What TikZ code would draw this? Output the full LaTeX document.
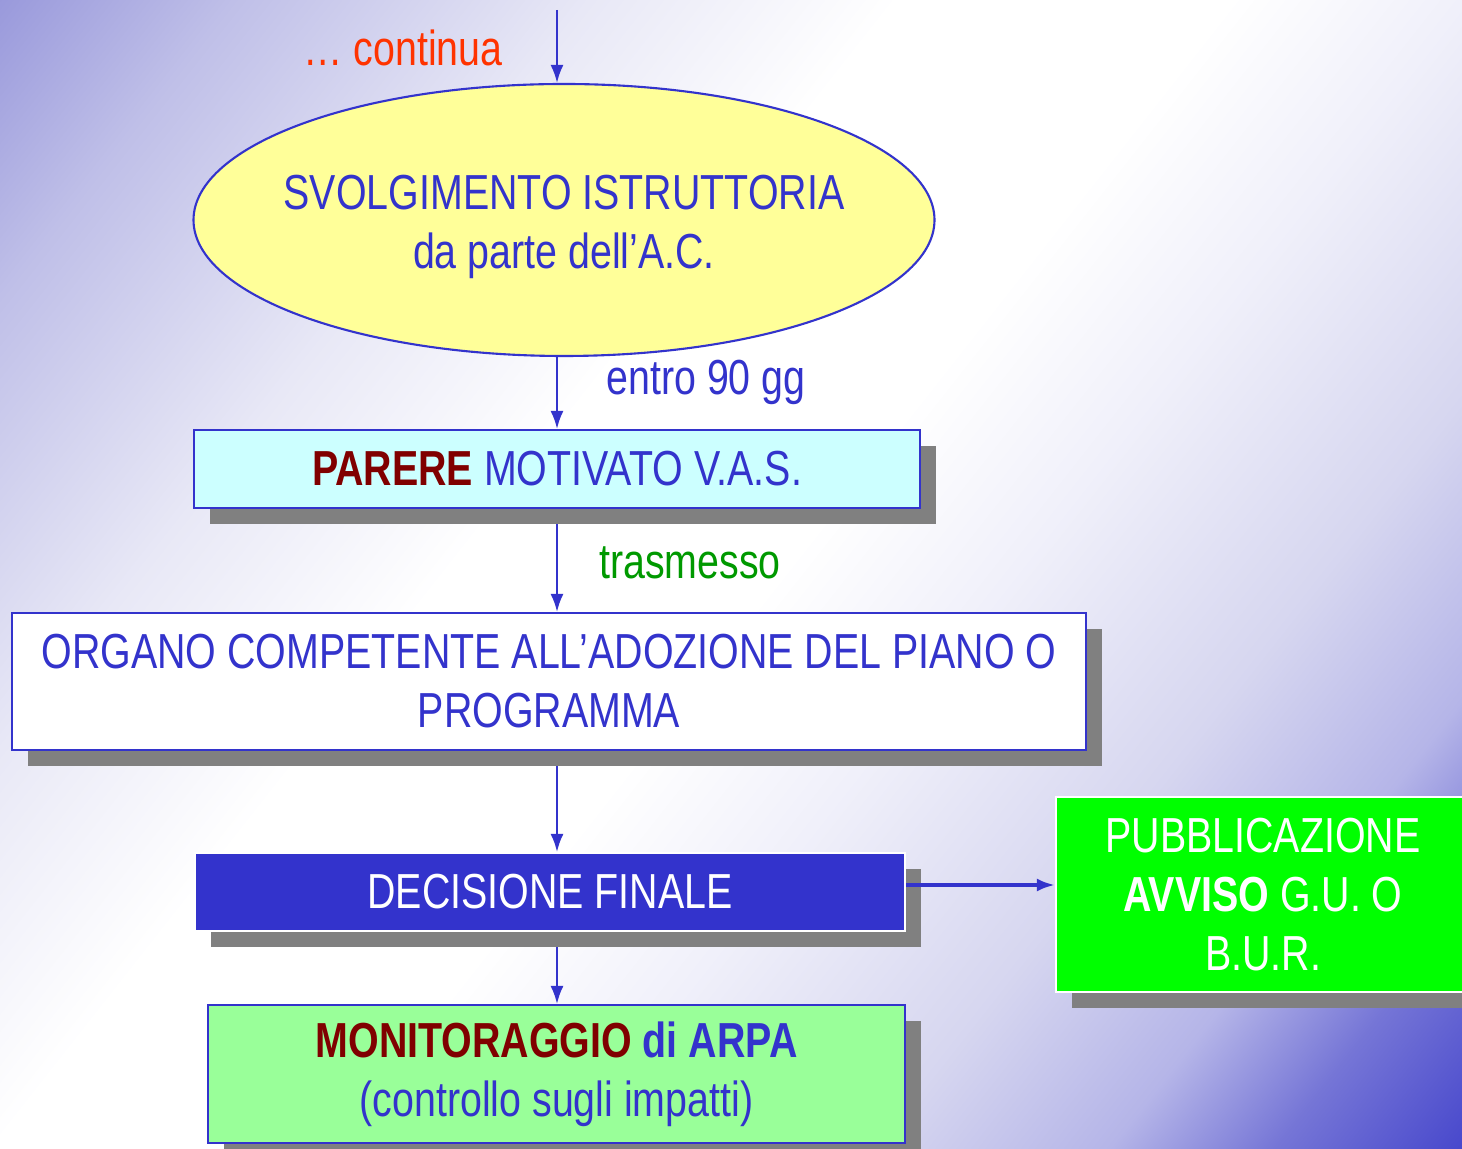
\documentclass[tikz,border=0pt]{standalone}
\usepackage{fontspec}
\setmainfont{Liberation Sans}[FakeStretch=0.8]
\usetikzlibrary{shapes.geometric,shadows,arrows.meta}

\definecolor{vasblue}{RGB}{51,51,204}
\definecolor{vasred}{RGB}{128,0,0}
\definecolor{vasorange}{RGB}{255,51,0}
\definecolor{vasgreentext}{RGB}{0,153,0}
\definecolor{vasyellow}{RGB}{255,255,153}
\definecolor{vascyan}{RGB}{204,255,255}
\definecolor{vasgreen}{RGB}{0,255,0}
\definecolor{vaslight}{RGB}{153,255,153}
\definecolor{shadowgray}{RGB}{128,128,128}

\pgfdeclarelayer{bg}
\pgfdeclarelayer{edges}
\pgfsetlayers{bg,edges,main}

\pgfdeclarehorizontalshading{slidebg}{100bp}{rgb(0bp)=(.6,.6,.86); rgb(10bp)=(.75,.75,.91); rgb(25bp)=(.91,.91,.965); rgb(38bp)=(1,1,1); rgb(52bp)=(1,1,1); rgb(62bp)=(.94,.94,.98); rgb(75bp)=(.84,.84,.94); rgb(85bp)=(.71,.71,.91); rgb(92bp)=(.46,.46,.84); rgb(100bp)=(.28,.28,.8)}

\begin{document}
\begin{tikzpicture}[x=0.1mm,y=-0.1mm,
  font=\fontsize{14}{16.8}\selectfont,
  vasbox/.style={draw=vasblue,line width=0.6pt,inner sep=0pt,align=center,text=vasblue},
  shadebox/.style={drop shadow={shadow xshift=1.6mm,shadow yshift=-1.6mm,fill=shadowgray,opacity=1}},
  link/.style={draw=vasblue,line width=0.6pt,-{Latex[length=1.8mm,width=1.3mm]}}]
\useasboundingbox (0,0) rectangle (1462,1149);
\begin{pgfonlayer}{bg}
\begin{scope}
\clip (0,0) rectangle (1462,1149);
\node[inner sep=0pt,rotate=-38.2,scale=5.28] (slide) at (731,574.5) {\pgfuseshading{slidebg}};
\end{scope}
\end{pgfonlayer}

\coordinate (trunk) at (557,10);
\node[text=vasorange] (cont) at (403,48) {… continua};
\node[vasbox,ellipse,fill=vasyellow,minimum width=74.1mm,minimum height=27.2mm,
  label={[text=vasblue,align=center,yshift=-0.7mm]center:SVOLGIMENTO ISTRUTTORIA\\da parte dell’A.C.}] (istr) at (564,220) {};
\node[text=vasblue] (entro) at (706,382) {entro 90 gg};
\node[vasbox,shadebox,fill=vascyan,minimum width=72.6mm,minimum height=7.8mm] (parere) at (557,469) {\textbf{\color{vasred}PARERE} MOTIVATO V.A.S.};
\node[text=vasgreentext] (trasm) at (690,563) {trasmesso};
\node[vasbox,shadebox,fill=white,minimum width=107.4mm,minimum height=13.7mm] (organo) at (549,681.5) {ORGANO COMPETENTE ALL’ADOZIONE DEL PIANO O\\PROGRAMMA};
\node[vasbox,shadebox,draw=white,fill=vasblue,text=white,minimum width=71mm,minimum height=7.8mm] (decis) at (550,892) {DECISIONE FINALE};
\node[vasbox,shadebox,draw=white,fill=vasgreen,text=white,minimum width=41.4mm,minimum height=19.5mm] (pubbl) at (1263,894.5) {PUBBLICAZIONE\\\textbf{AVVISO} G.U. O\\B.U.R.};
\node[vasbox,shadebox,fill=vaslight,minimum width=69.7mm,minimum height=13.8mm] (monit) at (556.5,1074) {\textbf{\color{vasred}MONITORAGGIO} \textbf{di ARPA}\\(controllo sugli impatti)};

\begin{pgfonlayer}{edges}
\draw[link] (trunk) -- (trunk |- istr.north);
\draw[link] (istr.south -| trunk) -- (parere.north -| trunk);
\draw[link] (parere.south -| trunk) -- (organo.north -| trunk);
\draw[link] (organo.south -| trunk) -- (decis.north -| trunk);
\draw[link] (decis.south -| trunk) -- (monit.north -| trunk);
\end{pgfonlayer}
\draw[link,line width=1pt] ([yshift=0.7mm]decis.east) -- ([yshift=0.7mm]decis.east -| pubbl.west);
\end{tikzpicture}
\end{document}
